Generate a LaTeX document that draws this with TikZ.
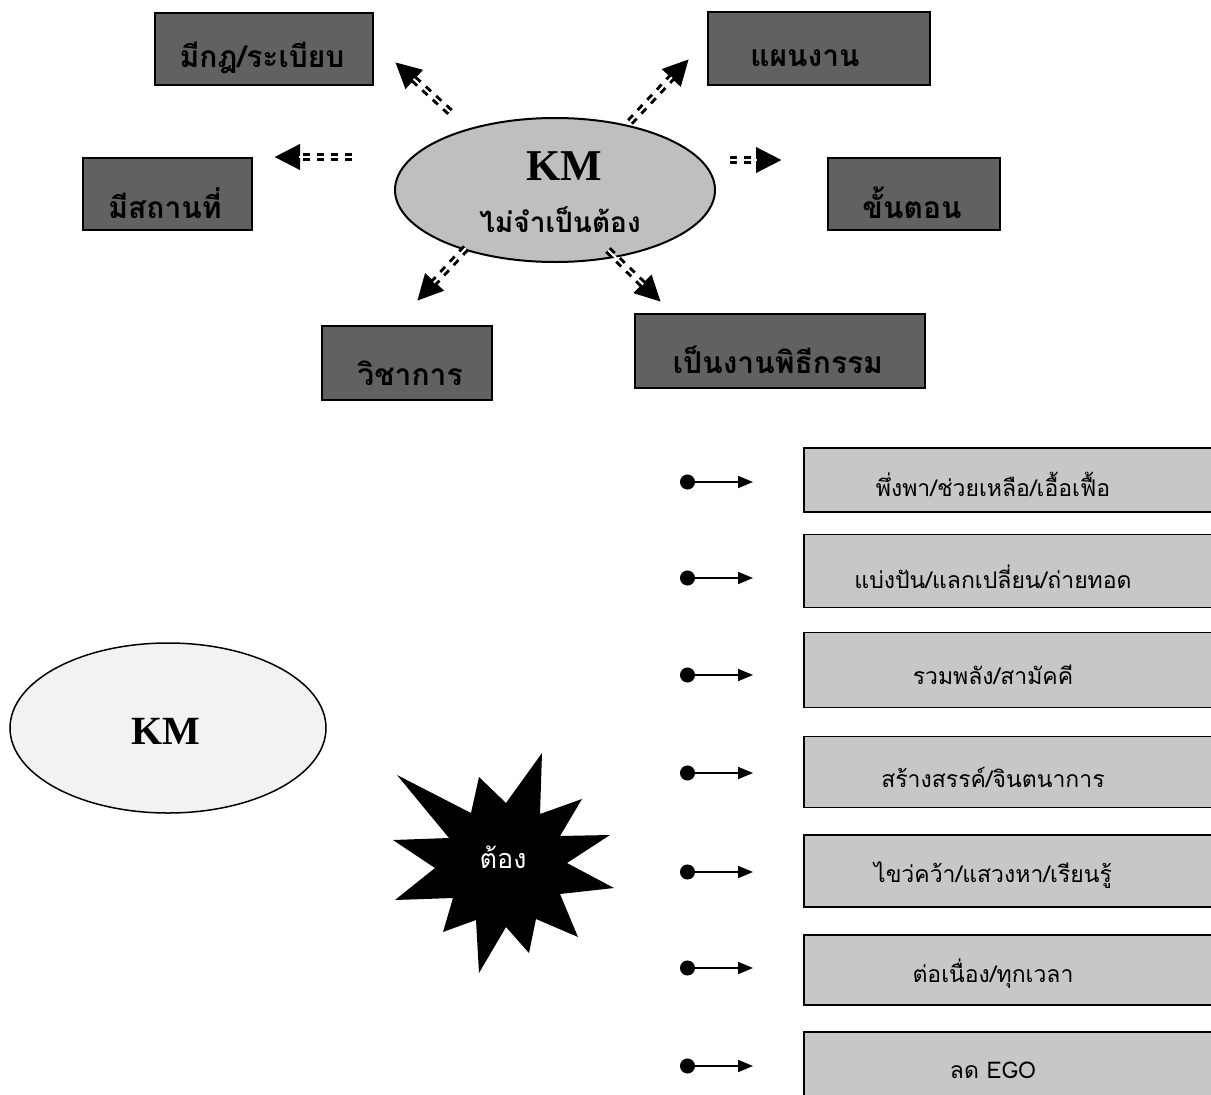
\documentclass[tikz,border=0pt]{standalone}
\usepackage{fontspec}
\setmainfont{Liberation Serif}
\newfontfamily\thai[Script=Thai]{Loma}
\usetikzlibrary{arrows.meta,shapes.geometric}
\tikzset{
  darkbox/.style={draw=black, line width=2pt, fill=black!62, inner sep=0pt},
  lightbox/.style={draw=black, line width=1.6pt, fill=black!22, inner sep=0pt, anchor=west, minimum width=420pt},
  darktext/.style={font=\thai\bfseries\fontsize{30}{34}\selectfont, text=black},
  rowtext/.style={font=\thai\fontsize{23}{26}\selectfont, text=black, inner sep=1pt},
  dasharr/.style={line width=8pt, dash pattern=on 7pt off 7pt, -{Triangle[length=26pt,width=24pt]}},
  dashgap/.style={white, line width=2pt},
  bularr/.style={line width=1.8pt, {Circle[length=15pt]}-{Triangle[length=15pt,width=12pt]}}
}
\begin{document}
\begin{tikzpicture}[x=1pt,y=-1pt]
\useasboundingbox (0,0) rectangle (1211,1095);
\fill[white] (0,0) rectangle (1211,1095);

% central ellipse
\node[ellipse, draw=black, line width=2pt, fill=black!25, minimum width=320pt, minimum height=144pt] (core) at (555,190) {};
\node[font=\bfseries\fontsize{44}{48}\selectfont] (coreKM) at (564,166) {KM};
\node[font=\thai\bfseries\fontsize{28}{32}\selectfont] (coretext) at (560,220) {ไม่จำเป็นต้อง};

% dark boxes
\node[darkbox, minimum width=218pt, minimum height=72pt] (b1) at (264,49) {};
\node[darktext] (b1t) at (262,58) {มีกฎ/ระเบียบ};
\node[darkbox, minimum width=222pt, minimum height=73pt] (b2) at (819,48) {};
\node[darktext] (b2t) at (805,58) {แผนงาน};
\node[darkbox, minimum width=169pt, minimum height=72pt] (b3) at (167,194) {};
\node[darktext] (b3t) at (165,203) {มีสถานที่};
\node[darkbox, minimum width=172pt, minimum height=72pt] (b4) at (914,194) {};
\node[darktext] (b4t) at (912,203) {ขั้นตอน};
\node[darkbox, minimum width=170pt, minimum height=74pt] (b5) at (407,363) {};
\node[darktext] (b5t) at (410,373) {วิชาการ};
\node[darkbox, minimum width=290pt, minimum height=74pt] (b6) at (780,351) {};
\node[darktext] (b6t) at (778,360) {เป็นงานพิธีกรรม};

% dashed arrows
\coordinate (ulS) at (450,112); \coordinate (ulT) at (395,62);
\coordinate (urS) at (630,122); \coordinate (urT) at (689,59);
\coordinate (lS) at (352,157);  \coordinate (lT) at (274,157);
\coordinate (rS) at (730,160);  \coordinate (rT) at (782,160);
\coordinate (llS) at (466,248); \coordinate (llT) at (417,301);
\coordinate (lrS) at (608,250); \coordinate (lrT) at (661,302);
\foreach \s/\t in {ulS/ulT,urS/urT,lS/lT,rS/rT,llS/llT,lrS/lrT}{
  \draw[dasharr] (\s) -- (\t);
  \draw[dashgap, shorten >=25pt] (\s) -- (\t);
}

% left ellipse
\node[ellipse, draw=black, line width=1.5pt, fill=black!5, minimum width=316pt, minimum height=170pt] (km) at (168,728) {};
\node[font=\bfseries\fontsize{40}{44}\selectfont] (kmt) at (166,731) {KM};

% star
\fill[black] (542,753) -- (540,814) -- (582,799) -- (560,836) -- (610,835) -- (567,863)
  -- (614,888) -- (560,894) -- (578,937) -- (536,919) -- (529,953) -- (506,927)
  -- (479,973) -- (476,920) -- (443,932) -- (453,898) -- (395,900) -- (435,868)
  -- (393,840) -- (449,838) -- (397,775) -- (471,813) -- (479,777) -- (506,803) -- cycle;
\node[font=\thai\fontsize{27}{30}\selectfont, text=white] (must) at (503,857) {ต้อง};

% right boxes and bullet arrows
\foreach \i/\yb/\h/\yt/\ya/\txt in {
  1/480/64/484/482/{พึ่งพา/ช่วยเหลือ/เอื้อเฟื้อ},
  2/571/73/577/578/{แบ่งปัน/แลกเปลี่ยน/ถ่ายทอด},
  3/670/75/675/675/{รวมพลัง/สามัคคี},
  4/772/71/777/773/{สร้างสรรค์/จินตนาการ},
  5/871/72/875/872/{ไขว่คว้า/แสวงหา/เรียนรู้},
  6/970/70/974/968/{ต่อเนื่อง/ทุกเวลา},
  7/1066/68/1070/1066/{ลด EGO}}{
  \node[lightbox, minimum height=\h pt] (row\i) at (803,\yb) {};
  \node[rowtext] (rowt\i) at (993,\yt) {\txt};
  \coordinate (dot\i) at (680,\ya);
  \coordinate (tip\i) at (753,\ya);
  \draw[bularr] (dot\i) -- (tip\i);
}
\end{tikzpicture}
\end{document}
